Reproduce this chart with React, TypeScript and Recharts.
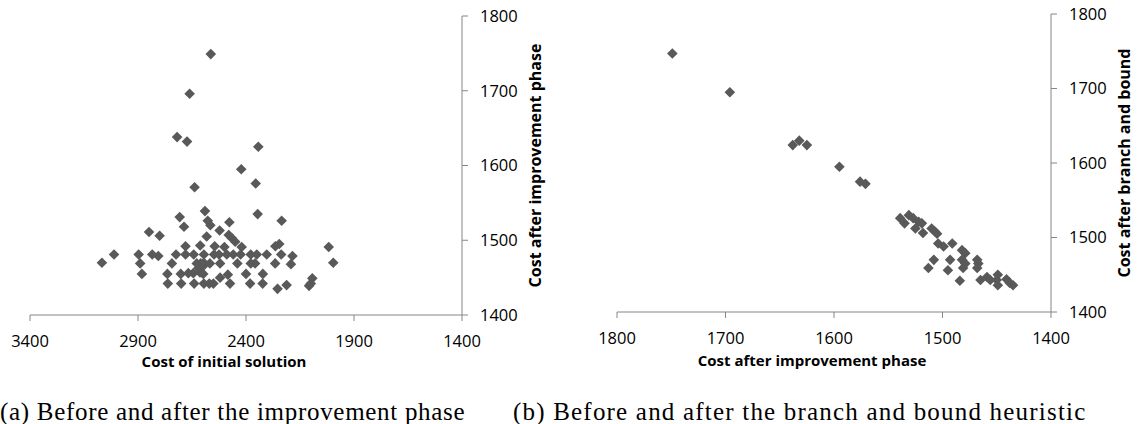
import { ScatterChart, Scatter, XAxis, YAxis, Label } from "recharts";

// (a) cost of the initial solution vs cost after the improvement phase
const initialCost = [
  2563, 2661, 2719, 2673, 2343, 2422, 2355, 2638,
  2590, 2346, 2707, 2235, 2577, 2477, 2565, 2687, 2522, 2849, 2800, 2480, 2582, 2466, 2450,
  2264, 2246, 2680, 2612, 2545, 2500, 2420, 2017,
  3011, 2897, 2834, 2806, 2724, 2680, 2642, 2595, 2548, 2525, 2489, 2459, 2425, 2378, 2350, 2304, 2237, 2185,
  3067,
  2890, 2743, 2628, 2610, 2595, 2567, 2520, 2440, 2378, 2358, 2265, 2192, 1996, 2620, 2600,
  2882, 2764, 2702, 2667, 2644, 2613, 2598, 2520, 2484, 2400, 2322,
  2762, 2700, 2640, 2595, 2570, 2551, 2474, 2381, 2323, 2254, 2212, 2108, 2100, 2093,
];
const improvedCostA = [
  1749, 1696, 1638, 1632, 1625, 1595, 1576, 1571,
  1539, 1535, 1531, 1526, 1526, 1524, 1520, 1518, 1513, 1511, 1506, 1507, 1505, 1503, 1498,
  1492, 1495, 1492, 1493, 1492, 1491, 1491, 1491,
  1481, 1481, 1481, 1479, 1481, 1481, 1481, 1481, 1481, 1481, 1481, 1481, 1481, 1481, 1481, 1481, 1481, 1479,
  1470,
  1469, 1469, 1469, 1469, 1470, 1469, 1469, 1469, 1469, 1469, 1469, 1468, 1470, 1463, 1465,
  1455, 1455, 1455, 1456, 1456, 1457, 1455, 1450, 1454, 1455, 1455,
  1442, 1442, 1442, 1442, 1442, 1442, 1442, 1442, 1442, 1435, 1440, 1439, 1442, 1449,
];

// (b) cost after the improvement phase vs cost after branch and bound
const improvedCostB = [
  1749, 1696, 1638, 1632, 1625, 1595, 1576, 1571,
  1539, 1535, 1531, 1527, 1522, 1519, 1525, 1518, 1510, 1507, 1505,
  1504, 1499, 1491, 1482, 1479,
  1508, 1513, 1493, 1495, 1482, 1479, 1481, 1468, 1467, 1468,
  1484, 1465, 1459, 1456, 1449, 1450, 1441, 1449, 1438, 1435,
];
const bbCost = [
  1747, 1695, 1624, 1630, 1624, 1595, 1575, 1572,
  1526, 1519, 1530, 1526, 1521, 1519, 1512, 1506, 1512, 1508, 1505,
  1492, 1488, 1492, 1483, 1479,
  1470, 1459, 1470, 1456, 1470, 1465, 1459, 1470, 1465, 1459,
  1442, 1443, 1447, 1443, 1450, 1443, 1444, 1436, 1439, 1436,
];

const xTicksA = [3400, 2900, 2400, 1900, 1400];
const xTicksB = [1800, 1700, 1600, 1500, 1400];
const yTicks = [1400, 1500, 1600, 1700, 1800];

const dataA = initialCost.map((x, i) => ({ x, y: improvedCostA[i] }));
const dataB = improvedCostB.map((x, i) => ({ x, y: bbCost[i] }));

const MARKER = "#595959";
const AXIS = "#868686";
const SANS = "'Open Sans', 'Liberation Sans', sans-serif";
const tickStyle = { fontFamily: SANS, fontSize: 16.5, fill: "#000" };

const Diamond = (props: any) => {
  const { cx, cy } = props;
  const r = 5.3;
  return (
    <path
      d={`M${cx},${cy - r}L${cx + r},${cy}L${cx},${cy + r}L${cx - r},${cy}Z`}
      fill={MARKER}
    />
  );
};

const App = () => {
  return (
    <div style={{ position: "absolute", left: 0, top: 0, width: 1137, height: 424, background: "#fff" }}>
      <div style={{ position: "absolute", left: 0, top: 0 }}>
        <ScatterChart width={570} height={390} margin={{ top: 16, right: 0, bottom: 0, left: 30 }}>
          <XAxis
            type="number"
            dataKey="x"
            domain={[1400, 3400]}
            ticks={xTicksA}
            reversed
            interval={0}
            height={75}
            tick={tickStyle}
            tickMargin={14}
            stroke={AXIS}
          >
            <Label
              value="Cost of initial solution"
              position="insideTop"
              offset={41}
              dx={-22}
              fill="#000"
              fontFamily={SANS}
              fontWeight="bold"
              fontSize={15}
            />
          </XAxis>
          <YAxis
            type="number"
            dataKey="y"
            orientation="right"
            domain={[1400, 1800]}
            ticks={yTicks}
            interval={0}
            width={108}
            tick={tickStyle}
            tickMargin={12}
            stroke={AXIS}
          >
            <Label
              value="Cost after improvement phase"
              angle={-90}
              position="center"
              dx={19}
              fill="#000"
              fontFamily={SANS}
              fontWeight="bold"
              fontSize={16}
            />
          </YAxis>
          <Scatter data={dataA} shape={<Diamond />} isAnimationActive={false} />
        </ScatterChart>
      </div>

      <div style={{ position: "absolute", left: 570, top: 0 }}>
        <ScatterChart width={567} height={390} margin={{ top: 14, right: 0, bottom: 0, left: 47 }}>
          <XAxis
            type="number"
            dataKey="x"
            domain={[1400, 1800]}
            ticks={xTicksB}
            reversed
            interval={0}
            height={78}
            tick={tickStyle}
            tickMargin={14}
            stroke={AXIS}
          >
            <Label
              value="Cost after improvement phase"
              position="insideTop"
              offset={43}
              dx={-22}
              fill="#000"
              fontFamily={SANS}
              fontWeight="bold"
              fontSize={15}
            />
          </XAxis>
          <YAxis
            type="number"
            dataKey="y"
            orientation="right"
            domain={[1400, 1800]}
            ticks={yTicks}
            interval={0}
            width={86}
            tick={tickStyle}
            tickMargin={12}
            stroke={AXIS}
          >
            <Label
              value="Cost after branch and bound"
              angle={-90}
              position="center"
              dx={30}
              fill="#000"
              fontFamily={SANS}
              fontWeight="bold"
              fontSize={16}
            />
          </YAxis>
          <Scatter data={dataB} shape={<Diamond />} isAnimationActive={false} />
        </ScatterChart>
      </div>

      <svg width={1137} height={424} style={{ position: "absolute", left: 0, top: 0, pointerEvents: "none" }}>
        <text x={0} y={420} fontFamily="'Liberation Serif', serif" fontSize={25} letterSpacing={0.7} fill="#000">
          (a) Before and after the improvement phase
        </text>
        <text x={513} y={420} fontFamily="'Liberation Serif', serif" fontSize={25} letterSpacing={1.2} fill="#000">
          (b) Before and after the branch and bound heuristic
        </text>
      </svg>
    </div>
  );
};

export default App;
